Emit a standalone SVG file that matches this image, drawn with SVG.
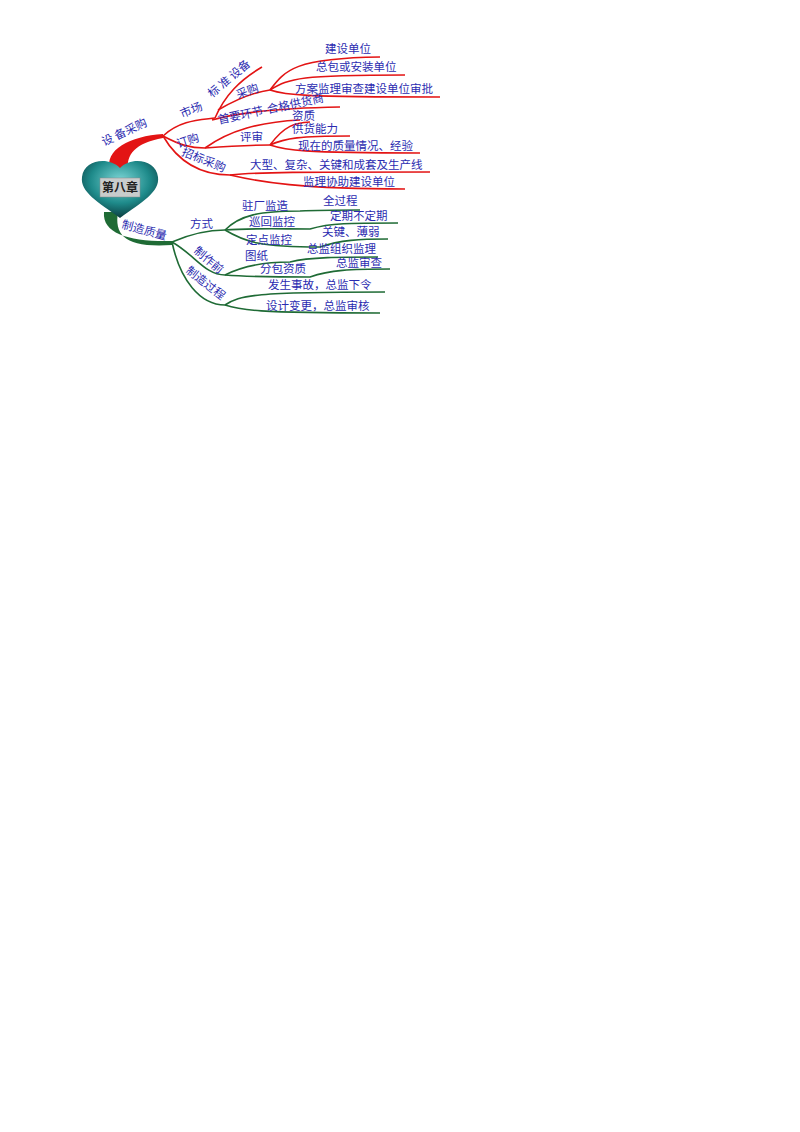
<svg xmlns="http://www.w3.org/2000/svg" width="800" height="1132" viewBox="0 0 800 1132">
<defs>
<radialGradient id="hg" cx="0.5" cy="0.35" r="0.65"><stop offset="0" stop-color="#7fd8d8"/><stop offset="0.6" stop-color="#1e8a8a"/><stop offset="1" stop-color="#0b3d40"/></radialGradient>
</defs>
<style>
text{font-family:"Noto Sans CJK SC","Liberation Sans",sans-serif;font-size:11.5px;fill:#2b2bb0}
.r{fill:none;stroke:#e31414;stroke-width:1.6}
.g{fill:none;stroke:#1f6b35;stroke-width:1.6}
</style>
<rect width="800" height="1132" fill="#fff"/>
<g id="connectors">
<path d="M110,170 C104,150 130,136 163,134 L163,138 C135,143 126,155 128,170 Z" fill="#e31414"/>
<path class="r" d="M163,136 C180,120 200,120 215,118"/>
<path class="r" d="M215,118 C225,95 240,80 262,67"/>
<path class="r" d="M218,110 C235,100 255,92 270,90"/>
<path class="r" d="M270,90 C285,70 295,58 380,57"/>
<path class="r" d="M270,90 C290,78 300,75 405,75"/>
<path class="r" d="M270,90 C285,95 300,97 440,97"/>
<path class="r" d="M212,120 C240,112 280,108 340,107"/>
<path class="r" d="M163,136 C180,145 190,148 205,148"/>
<path class="r" d="M205,148 C230,146 250,145 270,145"/>
<path class="r" d="M205,148 C230,130 260,122 300,120"/>
<path class="r" d="M270,145 C285,125 295,123 310,122"/>
<path class="r" d="M270,145 C285,138 300,136 350,136"/>
<path class="r" d="M270,145 C285,150 300,153 420,153"/>
<path class="r" d="M163,136 C180,165 205,175 230,175"/>
<path class="r" d="M230,175 C260,172 300,172 430,172"/>
<path class="r" d="M230,175 C260,182 300,189 405,189"/>
<path d="M104,212 C102,234 130,242 172,241 L172,245 C126,248 114,236 118,212 Z" fill="#1f6b35"/>
<path class="g" d="M172,242 C195,232 210,230 225,230"/>
<path class="g" d="M225,230 C240,215 260,211 300,211 C320,210 340,210 360,210"/>
<path class="g" d="M225,230 C250,228 280,229 310,229 C330,223 350,223 398,223"/>
<path class="g" d="M225,230 C245,242 260,247 320,247 C340,240 360,239 388,239"/>
<path class="g" d="M172,242 C195,255 205,275 225,275"/>
<path class="g" d="M225,275 C245,265 265,262 290,262 C310,257 340,257 378,257"/>
<path class="g" d="M225,275 C250,277 280,277 310,277 C330,270 350,269 390,269"/>
<path class="g" d="M172,242 C180,280 200,305 225,305"/>
<path class="g" d="M225,305 C240,295 255,292 385,292"/>
<path class="g" d="M225,305 C240,310 255,313 380,313"/>
</g>
<g id="root">
<path d="M120,218 C98,202 80,192 82,177 C84,160 108,156 120,168 C132,156 156,160 158,177 C160,192 142,202 120,218 Z" fill="url(#hg)"/>
<rect x="100" y="178" width="40" height="19" fill="#c8cccc" stroke="#888" stroke-width="0.5"/>
<text x="120" y="192" text-anchor="middle" style="fill:#222;font-weight:bold;font-size:12px">第八章</text>
</g>
<g id="n-shebei"><text transform="translate(104,146) rotate(-25)">设 备采购</text></g>
<g id="n-shichang"><text transform="translate(182,118) rotate(-22)">市场</text></g>
<g id="n-biaozhun"><text transform="translate(212,98) rotate(-40)">标 准 设备</text></g>
<g id="n-caigou"><text transform="translate(238,99) rotate(-20)">采购</text></g>
<g id="n-jsdw"><text x="325" y="53">建设单位</text></g>
<g id="n-zb"><text x="316" y="71">总包或安装单位</text></g>
<g id="n-fa"><text x="295" y="93">方案监理审查建设单位审批</text></g>
<g id="n-shouyao"><text transform="translate(219,124) rotate(-12)">首要环节-合格供货商</text></g>
<g id="n-dinggou"><text transform="translate(178,148) rotate(-18)">订购</text></g>
<g id="n-pingshen"><text x="240" y="141">评审</text></g>
<g id="n-zizhi"><text x="292" y="120">资质</text></g>
<g id="n-ghnl"><text x="292" y="133">供货能力</text></g>
<g id="n-xz"><text x="298" y="150">现在的质量情况、经验</text></g>
<g id="n-zhaobiao"><text transform="translate(181,155) rotate(22)">招标采购</text></g>
<g id="n-dx"><text x="250" y="169">大型、复杂、关键和成套及生产线</text></g>
<g id="n-jl"><text x="303" y="186">监理协助建设单位</text></g>
<g id="n-zhizao"><text transform="translate(121,228) rotate(15)">制造质量</text></g>
<g id="n-fangshi"><text x="190" y="228">方式</text></g>
<g id="n-zc"><text x="242" y="210">驻厂监造</text></g>
<g id="n-qgc"><text x="323" y="205">全过程</text></g>
<g id="n-xh"><text x="249" y="226">巡回监控</text></g>
<g id="n-dq"><text x="330" y="220">定期不定期</text></g>
<g id="n-dd"><text x="246" y="244">定点监控</text></g>
<g id="n-gj"><text x="322" y="236">关键、薄弱</text></g>
<g id="n-zzq"><text transform="translate(193,252) rotate(40)">制作前</text></g>
<g id="n-tz"><text x="245" y="260">图纸</text></g>
<g id="n-zjzz"><text x="307" y="253">总监组织监理</text></g>
<g id="n-fb"><text x="260" y="273">分包资质</text></g>
<g id="n-zjsc"><text x="336" y="267">总监审查</text></g>
<g id="n-zzgc"><text transform="translate(185,272) rotate(38)">制造过程</text></g>
<g id="n-fs"><text x="268" y="289">发生事故，总监下令</text></g>
<g id="n-sj"><text x="266" y="310">设计变更，总监审核</text></g>
</svg>
